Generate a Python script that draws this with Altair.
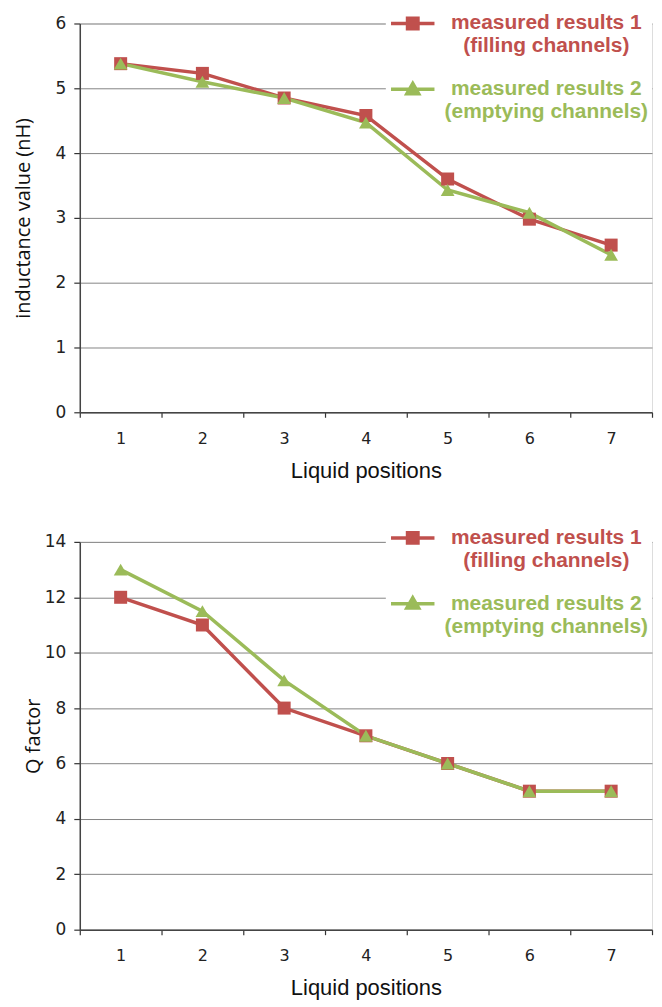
import altair as alt
import pandas as pd

positions = [1, 2, 3, 4, 5, 6, 7]
series_names = ["measured results 1\n(filling channels)", "measured results 2\n(emptying channels)"]
inductance_1 = [5.38, 5.23, 4.85, 4.58, 3.6, 2.98, 2.58]
inductance_2 = [5.38, 5.1, 4.85, 4.47, 3.43, 3.08, 2.43]
qfactor_1 = [12, 11, 8, 7, 6, 5, 5]
qfactor_2 = [13, 11.5, 9, 7, 6, 5, 5]
ind_ticks = [0, 1, 2, 3, 4, 5, 6]
q_ticks = [0, 2, 4, 6, 8, 10, 12, 14]

RED = "#C0504D"
GREEN = "#9BBB59"
W = 574


def long(v1, v2):
    rows = []
    for p, a, b in zip(positions, v1, v2):
        rows.append({"pos": p, "val": a, "series": series_names[0]})
        rows.append({"pos": p, "val": b, "series": series_names[1]})
    return pd.DataFrame(rows)


SQ_PATH = "M-1,0H1M-0.24,-0.24H0.24V0.24H-0.24Z"
TRI_PATH = "M-1,0H1M0,-0.27L0.27,0.2H-0.27Z"
first = series_names[0].replace("\n", "\\n")
val_expr = "datum.value == '%s' ? '%s' : '%s'" % (first, RED, GREEN)
shape_expr = "datum.value == '%s' ? '%s' : '%s'" % (first, SQ_PATH, TRI_PATH)


def panel(df, ytitle, ticks, ymax, legend_y, ytitle_pad, height):
    x = alt.X("pos:O", title="Liquid positions",
              scale=alt.Scale(type="band", paddingInner=0, paddingOuter=0),
              axis=alt.Axis(labelAngle=0, tickBand="extent", grid=False,
                            labelFont="DejaVu Sans", labelFontSize=16, labelColor="#222",
                            labelPadding=13, tickSize=5, tickColor="#333",
                            domainColor="#444", domainWidth=1.5, tickWidth=1.2,
                            titleFont="Liberation Sans", titleFontSize=22,
                            titleFontWeight="normal", titleColor="#111", titlePadding=14))
    y = alt.Y("val:Q", title=ytitle,
              scale=alt.Scale(domain=[0, ymax], nice=False, zero=True),
              axis=alt.Axis(values=ticks, grid=True, gridColor="#858585", gridWidth=1,
                            labelFont="DejaVu Sans", labelFontSize=17, labelColor="#222",
                            labelPadding=8, tickSize=6, tickColor="#333", tickWidth=1.2,
                            domainColor="#444", domainWidth=1.5,
                            titleFont="Open Sans", titleFontSize=20, titleFontWeight="normal",
                            titleColor="#111", titlePadding=ytitle_pad))
    cscale = alt.Scale(domain=series_names, range=[RED, GREEN])
    color = alt.Color("series:N", scale=cscale,
                      legend=alt.Legend(
                          title=None, orient="none", legendX=307, legendY=legend_y,
                          fillColor="white", padding=3,
                          labelExpr="split(datum.label, '\\n')",
                          labelFont="Liberation Sans", labelFontSize=21, labelFontWeight="bold",
                          labelColor=alt.ExprRef(val_expr),
                          labelAlign="center", labelOffset=110, labelLimit=400,
                          labelBaseline="middle",
                          symbolType=alt.ExprRef(shape_expr), symbolSize=1900,
                          symbolStrokeWidth=3.5,
                          symbolFillColor=alt.ExprRef(val_expr),
                          symbolStrokeColor=alt.ExprRef(val_expr),
                          rowPadding=9))
    base = alt.Chart(df)
    line = base.mark_line(strokeWidth=3.5).encode(x=x, y=y, color=color)
    pts1 = base.transform_filter(alt.datum.series == series_names[0]).mark_point(
        filled=True, shape="square", size=170, opacity=1).encode(
        x=x, y=y, color=alt.Color("series:N", scale=cscale, legend=None))
    pts2 = base.transform_filter(alt.datum.series == series_names[1]).mark_point(
        filled=True, shape="triangle-up", size=190, opacity=1).encode(
        x=x, y=y, color=alt.Color("series:N", scale=cscale, legend=None))
    return alt.layer(line, pts1, pts2).properties(width=W, height=height)


top = panel(long(inductance_1, inductance_2), "inductance value (nH)", ind_ticks, 6, -27, 22, 390)
bottom = panel(long(qfactor_1, qfactor_2), "Q factor", q_ticks, 14, -31, 1, 389)

chart = alt.vconcat(top, bottom, spacing=130, bounds="flush").resolve_scale(
    color="independent").resolve_legend(color="independent").properties(
    padding={"left": 4, "top": -14, "right": 0, "bottom": 0}
).configure_view(stroke=None).configure(background="white")

chart.save("out.html", embed_options={"renderer": "svg", "actions": False})
